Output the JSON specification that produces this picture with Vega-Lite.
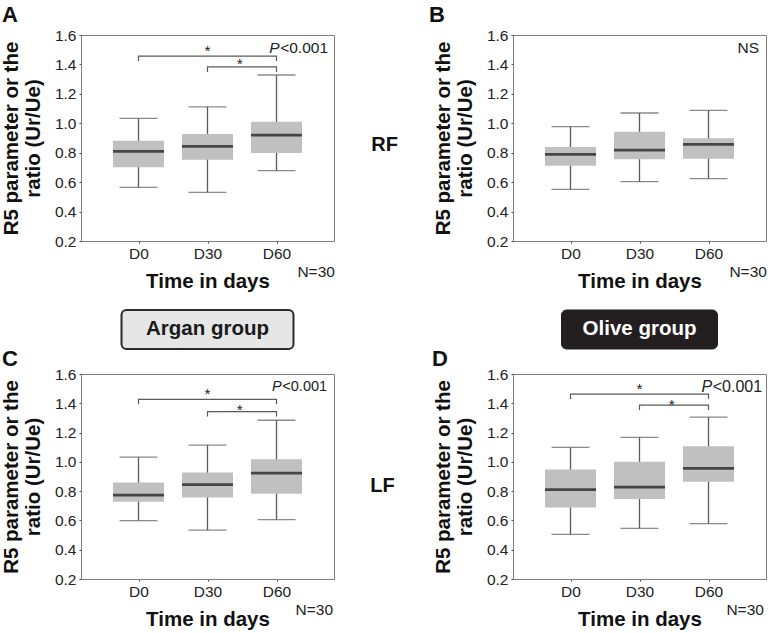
{
  "$schema": "https://vega.github.io/schema/vega-lite/v6.json",
  "autosize": {"type": "none"},
  "padding": {"left": 81, "top": 35, "right": 687, "bottom": 598},
  "background": "white",
  "columns": 2,
  "spacing": {"row": 25, "column": 179},
  "bounds": "flush",
  "datasets": {
    "boxes": [
      {"panel": "A", "day": 0, "min": 0.565, "q1": 0.701, "median": 0.809, "q3": 0.882, "max": 1.034},
      {"panel": "A", "day": 30, "min": 0.531, "q1": 0.753, "median": 0.843, "q3": 0.927, "max": 1.111},
      {"panel": "A", "day": 60, "min": 0.678, "q1": 0.798, "median": 0.92, "q3": 1.011, "max": 1.328},
      {"panel": "B", "day": 0, "min": 0.551, "q1": 0.712, "median": 0.789, "q3": 0.839, "max": 0.977},
      {"panel": "B", "day": 30, "min": 0.603, "q1": 0.755, "median": 0.818, "q3": 0.943, "max": 1.07},
      {"panel": "B", "day": 60, "min": 0.624, "q1": 0.759, "median": 0.857, "q3": 0.898, "max": 1.088},
      {"panel": "C", "day": 0, "min": 0.598, "q1": 0.727, "median": 0.773, "q3": 0.859, "max": 1.032},
      {"panel": "C", "day": 30, "min": 0.534, "q1": 0.757, "median": 0.845, "q3": 0.927, "max": 1.114},
      {"panel": "C", "day": 60, "min": 0.605, "q1": 0.782, "median": 0.923, "q3": 1.018, "max": 1.284},
      {"panel": "D", "day": 0, "min": 0.505, "q1": 0.689, "median": 0.81, "q3": 0.947, "max": 1.099},
      {"panel": "D", "day": 30, "min": 0.546, "q1": 0.746, "median": 0.828, "q3": 1.001, "max": 1.167},
      {"panel": "D", "day": 60, "min": 0.578, "q1": 0.865, "median": 0.956, "q3": 1.106, "max": 1.306}
    ],
    "brackets": [
      {"panel": "A", "bracket": 1, "seq": 1, "day": 0, "ratio": 1.423},
      {"panel": "A", "bracket": 1, "seq": 2, "day": 0, "ratio": 1.457},
      {"panel": "A", "bracket": 1, "seq": 3, "day": 60, "ratio": 1.457},
      {"panel": "A", "bracket": 1, "seq": 4, "day": 60, "ratio": 1.423},
      {"panel": "A", "bracket": 2, "seq": 1, "day": 30, "ratio": 1.349},
      {"panel": "A", "bracket": 2, "seq": 2, "day": 30, "ratio": 1.383},
      {"panel": "A", "bracket": 2, "seq": 3, "day": 60, "ratio": 1.383},
      {"panel": "A", "bracket": 2, "seq": 4, "day": 60, "ratio": 1.349},
      {"panel": "C", "bracket": 1, "seq": 1, "day": 0, "ratio": 1.393},
      {"panel": "C", "bracket": 1, "seq": 2, "day": 0, "ratio": 1.427},
      {"panel": "C", "bracket": 1, "seq": 3, "day": 60, "ratio": 1.427},
      {"panel": "C", "bracket": 1, "seq": 4, "day": 60, "ratio": 1.393},
      {"panel": "C", "bracket": 2, "seq": 1, "day": 30, "ratio": 1.309},
      {"panel": "C", "bracket": 2, "seq": 2, "day": 30, "ratio": 1.343},
      {"panel": "C", "bracket": 2, "seq": 3, "day": 60, "ratio": 1.343},
      {"panel": "C", "bracket": 2, "seq": 4, "day": 60, "ratio": 1.309},
      {"panel": "D", "bracket": 1, "seq": 1, "day": 0, "ratio": 1.429},
      {"panel": "D", "bracket": 1, "seq": 2, "day": 0, "ratio": 1.463},
      {"panel": "D", "bracket": 1, "seq": 3, "day": 60, "ratio": 1.463},
      {"panel": "D", "bracket": 1, "seq": 4, "day": 60, "ratio": 1.429},
      {"panel": "D", "bracket": 2, "seq": 1, "day": 30, "ratio": 1.354},
      {"panel": "D", "bracket": 2, "seq": 2, "day": 30, "ratio": 1.388},
      {"panel": "D", "bracket": 2, "seq": 3, "day": 60, "ratio": 1.388},
      {"panel": "D", "bracket": 2, "seq": 4, "day": 60, "ratio": 1.354}
    ],
    "stars": [
      {"panel": "A", "day": 30, "ratio": 1.457, "label": "*"},
      {"panel": "A", "day": 44, "ratio": 1.368, "label": "*"},
      {"panel": "C", "day": 30, "ratio": 1.429, "label": "*"},
      {"panel": "C", "day": 44, "ratio": 1.32, "label": "*"},
      {"panel": "D", "day": 30, "ratio": 1.463, "label": "*"},
      {"panel": "D", "day": 44, "ratio": 1.354, "label": "*"}
    ],
    "notes": [
      {"panel": "A", "kind": "p", "label": "<0.001", "day": 82.4, "ratio": 1.478},
      {"panel": "A", "kind": "pItalic", "label": "P", "day": 61.3, "ratio": 1.478},
      {"panel": "A", "kind": "n", "label": "N=30", "day": 85.4, "ratio": -0.045},
      {"panel": "A", "kind": "row", "label": "RF", "day": 107, "ratio": 0.812},
      {"panel": "B", "kind": "n", "label": "NS", "day": 82, "ratio": 1.478},
      {"panel": "B", "kind": "n", "label": "N=30", "day": 85.4, "ratio": -0.045},
      {"panel": "C", "kind": "p", "label": "<0.001", "day": 82, "ratio": 1.486},
      {"panel": "C", "kind": "pItalic", "label": "P", "day": 62.3, "ratio": 1.486},
      {"panel": "C", "kind": "n", "label": "N=30", "day": 84.6, "ratio": -0.045},
      {"panel": "C", "kind": "row", "label": "LF", "day": 106.1, "ratio": 0.794},
      {"panel": "D", "kind": "p", "label": "<0.001", "day": 83.3, "ratio": 1.479},
      {"panel": "D", "kind": "pItalic", "label": "P", "day": 61.6, "ratio": 1.479},
      {"panel": "D", "kind": "n", "label": "N=30", "day": 84.1, "ratio": -0.045}
    ],
    "groups": [
      {"group": "Argan group"},
      {"group": "Olive group"}
    ]
  },
  "concat": [
    {
      "width": 253, "height": 206,
      "title": {"text": "A", "anchor": "start", "frame": "group", "dx": -79, "offset": -16, "baseline": "alphabetic", "fontSize": 22, "fontWeight": "bold", "color": "#111"},
      "encoding": {"x": {"field": "day", "type": "quantitative", "scale": {"domain": [-25, 85], "nice": false, "zero": false, "padding": 0}, "axis": {"values": [0, 30, 60], "labelExpr": "'D' + datum.value", "title": "Time in days", "labelFlush": false, "labelOverlap": false}}},
      "layer": [
        {"data": {"name": "boxes"}, "transform": [{"filter": "datum.panel === 'A'"}], "mark": {"type": "rule", "color": "#5a5a5a", "strokeWidth": 1.3},
         "encoding": {"y": {"field": "min", "type": "quantitative", "scale": {"domain": [0.2, 1.6], "nice": false, "zero": false, "padding": 0}, "axis": {"values": [0.2, 0.4, 0.6, 0.8, 1.0, 1.2, 1.4, 1.6], "format": ".1f", "title": ["R5 parameter or the", "ratio (Ur/Ue)"], "labelFlush": false, "labelOverlap": false}}, "y2": {"field": "max"}}},
        {"data": {"name": "boxes"}, "transform": [{"filter": "datum.panel === 'A'"}], "mark": {"type": "tick", "orient": "horizontal", "size": 38, "thickness": 1.3, "color": "#5a5a5a"},
         "encoding": {"y": {"field": "max", "type": "quantitative", "scale": {"domain": [0.2, 1.6], "nice": false, "zero": false, "padding": 0}, "axis": {"values": [0.2, 0.4, 0.6, 0.8, 1.0, 1.2, 1.4, 1.6], "format": ".1f", "title": ["R5 parameter or the", "ratio (Ur/Ue)"], "labelFlush": false, "labelOverlap": false}}}},
        {"data": {"name": "boxes"}, "transform": [{"filter": "datum.panel === 'A'"}], "mark": {"type": "tick", "orient": "horizontal", "size": 38, "thickness": 1.3, "color": "#5a5a5a"},
         "encoding": {"y": {"field": "min", "type": "quantitative", "scale": {"domain": [0.2, 1.6], "nice": false, "zero": false, "padding": 0}, "axis": {"values": [0.2, 0.4, 0.6, 0.8, 1.0, 1.2, 1.4, 1.6], "format": ".1f", "title": ["R5 parameter or the", "ratio (Ur/Ue)"], "labelFlush": false, "labelOverlap": false}}}},
        {"data": {"name": "boxes"}, "transform": [{"filter": "datum.panel === 'A'"}], "mark": {"type": "bar", "orient": "vertical", "width": 51, "color": "#c0c0c0"},
         "encoding": {"y": {"field": "q1", "type": "quantitative", "scale": {"domain": [0.2, 1.6], "nice": false, "zero": false, "padding": 0}, "axis": {"values": [0.2, 0.4, 0.6, 0.8, 1.0, 1.2, 1.4, 1.6], "format": ".1f", "title": ["R5 parameter or the", "ratio (Ur/Ue)"], "labelFlush": false, "labelOverlap": false}}, "y2": {"field": "q3"}}},
        {"data": {"name": "boxes"}, "transform": [{"filter": "datum.panel === 'A'"}], "mark": {"type": "tick", "orient": "horizontal", "size": 51, "thickness": 2.8, "color": "#111"},
         "encoding": {"y": {"field": "median", "type": "quantitative", "scale": {"domain": [0.2, 1.6], "nice": false, "zero": false, "padding": 0}, "axis": {"values": [0.2, 0.4, 0.6, 0.8, 1.0, 1.2, 1.4, 1.6], "format": ".1f", "title": ["R5 parameter or the", "ratio (Ur/Ue)"], "labelFlush": false, "labelOverlap": false}}}},
        {"data": {"name": "brackets"}, "transform": [{"filter": "datum.panel === 'A'"}], "mark": {"type": "line", "color": "#5a5a5a", "strokeWidth": 1.2},
         "encoding": {"y": {"field": "ratio", "type": "quantitative", "scale": {"domain": [0.2, 1.6], "nice": false, "zero": false, "padding": 0}, "axis": {"values": [0.2, 0.4, 0.6, 0.8, 1.0, 1.2, 1.4, 1.6], "format": ".1f", "title": ["R5 parameter or the", "ratio (Ur/Ue)"], "labelFlush": false, "labelOverlap": false}}, "detail": {"field": "bracket"}, "order": {"field": "seq"}}},
        {"data": {"name": "stars"}, "transform": [{"filter": "datum.panel === 'A'"}], "mark": {"type": "text", "fontSize": 15.5, "baseline": "alphabetic", "color": "#222"},
         "encoding": {"y": {"field": "ratio", "type": "quantitative", "scale": {"domain": [0.2, 1.6], "nice": false, "zero": false, "padding": 0}, "axis": {"values": [0.2, 0.4, 0.6, 0.8, 1.0, 1.2, 1.4, 1.6], "format": ".1f", "title": ["R5 parameter or the", "ratio (Ur/Ue)"], "labelFlush": false, "labelOverlap": false}}, "text": {"field": "label"}}},
        {"data": {"name": "notes"}, "transform": [{"filter": "datum.panel === 'A' && datum.kind === 'p'"}], "mark": {"type": "text", "align": "right", "fontSize": 15.5, "baseline": "alphabetic", "color": "#222"},
         "encoding": {"y": {"field": "ratio", "type": "quantitative", "scale": {"domain": [0.2, 1.6], "nice": false, "zero": false, "padding": 0}, "axis": {"values": [0.2, 0.4, 0.6, 0.8, 1.0, 1.2, 1.4, 1.6], "format": ".1f", "title": ["R5 parameter or the", "ratio (Ur/Ue)"], "labelFlush": false, "labelOverlap": false}}, "text": {"field": "label"}}},
        {"data": {"name": "notes"}, "transform": [{"filter": "datum.panel === 'A' && datum.kind === 'pItalic'"}], "mark": {"type": "text", "align": "right", "fontSize": 15.5, "fontStyle": "italic", "baseline": "alphabetic", "color": "#222"},
         "encoding": {"y": {"field": "ratio", "type": "quantitative", "scale": {"domain": [0.2, 1.6], "nice": false, "zero": false, "padding": 0}, "axis": {"values": [0.2, 0.4, 0.6, 0.8, 1.0, 1.2, 1.4, 1.6], "format": ".1f", "title": ["R5 parameter or the", "ratio (Ur/Ue)"], "labelFlush": false, "labelOverlap": false}}, "text": {"field": "label"}}},
        {"data": {"name": "notes"}, "transform": [{"filter": "datum.panel === 'A' && datum.kind === 'n'"}], "mark": {"type": "text", "align": "right", "fontSize": 15.5, "baseline": "alphabetic", "color": "#222"},
         "encoding": {"y": {"field": "ratio", "type": "quantitative", "scale": {"domain": [0.2, 1.6], "nice": false, "zero": false, "padding": 0}, "axis": {"values": [0.2, 0.4, 0.6, 0.8, 1.0, 1.2, 1.4, 1.6], "format": ".1f", "title": ["R5 parameter or the", "ratio (Ur/Ue)"], "labelFlush": false, "labelOverlap": false}}, "text": {"field": "label"}}},
        {"data": {"name": "notes"}, "transform": [{"filter": "datum.panel === 'A' && datum.kind === 'row'"}], "mark": {"type": "text", "align": "center", "fontSize": 20, "fontWeight": "bold", "baseline": "alphabetic", "color": "#111"},
         "encoding": {"y": {"field": "ratio", "type": "quantitative", "scale": {"domain": [0.2, 1.6], "nice": false, "zero": false, "padding": 0}, "axis": {"values": [0.2, 0.4, 0.6, 0.8, 1.0, 1.2, 1.4, 1.6], "format": ".1f", "title": ["R5 parameter or the", "ratio (Ur/Ue)"], "labelFlush": false, "labelOverlap": false}}, "text": {"field": "label"}}}
      ]
    },
    {
      "width": 253, "height": 206,
      "title": {"text": "B", "anchor": "start", "frame": "group", "dx": -84, "offset": -16, "baseline": "alphabetic", "fontSize": 22, "fontWeight": "bold", "color": "#111"},
      "encoding": {"x": {"field": "day", "type": "quantitative", "scale": {"domain": [-25, 85], "nice": false, "zero": false, "padding": 0}, "axis": {"values": [0, 30, 60], "labelExpr": "'D' + datum.value", "title": "Time in days", "labelFlush": false, "labelOverlap": false}}},
      "layer": [
        {"data": {"name": "boxes"}, "transform": [{"filter": "datum.panel === 'B'"}], "mark": {"type": "rule", "color": "#5a5a5a", "strokeWidth": 1.3},
         "encoding": {"y": {"field": "min", "type": "quantitative", "scale": {"domain": [0.2, 1.6], "nice": false, "zero": false, "padding": 0}, "axis": {"values": [0.2, 0.4, 0.6, 0.8, 1.0, 1.2, 1.4, 1.6], "format": ".1f", "title": ["R5 parameter or the", "ratio (Ur/Ue)"], "labelFlush": false, "labelOverlap": false}}, "y2": {"field": "max"}}},
        {"data": {"name": "boxes"}, "transform": [{"filter": "datum.panel === 'B'"}], "mark": {"type": "tick", "orient": "horizontal", "size": 38, "thickness": 1.3, "color": "#5a5a5a"},
         "encoding": {"y": {"field": "max", "type": "quantitative", "scale": {"domain": [0.2, 1.6], "nice": false, "zero": false, "padding": 0}, "axis": {"values": [0.2, 0.4, 0.6, 0.8, 1.0, 1.2, 1.4, 1.6], "format": ".1f", "title": ["R5 parameter or the", "ratio (Ur/Ue)"], "labelFlush": false, "labelOverlap": false}}}},
        {"data": {"name": "boxes"}, "transform": [{"filter": "datum.panel === 'B'"}], "mark": {"type": "tick", "orient": "horizontal", "size": 38, "thickness": 1.3, "color": "#5a5a5a"},
         "encoding": {"y": {"field": "min", "type": "quantitative", "scale": {"domain": [0.2, 1.6], "nice": false, "zero": false, "padding": 0}, "axis": {"values": [0.2, 0.4, 0.6, 0.8, 1.0, 1.2, 1.4, 1.6], "format": ".1f", "title": ["R5 parameter or the", "ratio (Ur/Ue)"], "labelFlush": false, "labelOverlap": false}}}},
        {"data": {"name": "boxes"}, "transform": [{"filter": "datum.panel === 'B'"}], "mark": {"type": "bar", "orient": "vertical", "width": 51, "color": "#c0c0c0"},
         "encoding": {"y": {"field": "q1", "type": "quantitative", "scale": {"domain": [0.2, 1.6], "nice": false, "zero": false, "padding": 0}, "axis": {"values": [0.2, 0.4, 0.6, 0.8, 1.0, 1.2, 1.4, 1.6], "format": ".1f", "title": ["R5 parameter or the", "ratio (Ur/Ue)"], "labelFlush": false, "labelOverlap": false}}, "y2": {"field": "q3"}}},
        {"data": {"name": "boxes"}, "transform": [{"filter": "datum.panel === 'B'"}], "mark": {"type": "tick", "orient": "horizontal", "size": 51, "thickness": 2.8, "color": "#111"},
         "encoding": {"y": {"field": "median", "type": "quantitative", "scale": {"domain": [0.2, 1.6], "nice": false, "zero": false, "padding": 0}, "axis": {"values": [0.2, 0.4, 0.6, 0.8, 1.0, 1.2, 1.4, 1.6], "format": ".1f", "title": ["R5 parameter or the", "ratio (Ur/Ue)"], "labelFlush": false, "labelOverlap": false}}}},
        {"data": {"name": "notes"}, "transform": [{"filter": "datum.panel === 'B' && datum.kind === 'n'"}], "mark": {"type": "text", "align": "right", "fontSize": 15.5, "baseline": "alphabetic", "color": "#222"},
         "encoding": {"y": {"field": "ratio", "type": "quantitative", "scale": {"domain": [0.2, 1.6], "nice": false, "zero": false, "padding": 0}, "axis": {"values": [0.2, 0.4, 0.6, 0.8, 1.0, 1.2, 1.4, 1.6], "format": ".1f", "title": ["R5 parameter or the", "ratio (Ur/Ue)"], "labelFlush": false, "labelOverlap": false}}, "text": {"field": "label"}}}
      ]
    },
    {
      "width": 253, "height": 83,
      "view": {"stroke": null},
      "data": {"name": "groups"},
      "transform": [{"filter": "datum.group === 'Argan group'"}],
      "encoding": {
        "x": {"field": "group", "type": "nominal", "scale": {"paddingInner": 0, "paddingOuter": 0.2355}, "axis": null},
        "y": {"field": "group", "type": "nominal", "scale": {"paddingInner": 0, "paddingOuter": 0.564, "align": 1}, "axis": null}
      },
      "layer": [
        {"mark": {"type": "rect", "fill": "#e6e6e6", "stroke": "#2b2b2b", "strokeWidth": 2, "cornerRadius": 5}},
        {"mark": {"type": "text", "fontSize": 20.5, "fontWeight": "bold", "color": "#1a1a1a"}, "encoding": {"text": {"field": "group"}}}
      ]
    },
    {
      "width": 253, "height": 83,
      "view": {"stroke": null},
      "data": {"name": "groups"},
      "transform": [{"filter": "datum.group === 'Olive group'"}],
      "encoding": {
        "x": {"field": "group", "type": "nominal", "scale": {"paddingInner": 0, "paddingOuter": 0.3109}, "axis": null},
        "y": {"field": "group", "type": "nominal", "scale": {"paddingInner": 0, "paddingOuter": 0.564, "align": 1}, "axis": null}
      },
      "layer": [
        {"mark": {"type": "rect", "fill": "#231f20", "stroke": "#231f20", "strokeWidth": 1, "cornerRadius": 5}},
        {"mark": {"type": "text", "fontSize": 20.5, "fontWeight": "bold", "color": "#ffffff"}, "encoding": {"text": {"field": "group"}}}
      ]
    },
    {
      "width": 253, "height": 205,
      "title": {"text": "C", "anchor": "start", "frame": "group", "dx": -79, "offset": -21, "baseline": "alphabetic", "fontSize": 22, "fontWeight": "bold", "color": "#111"},
      "encoding": {"x": {"field": "day", "type": "quantitative", "scale": {"domain": [-25, 85], "nice": false, "zero": false, "padding": 0}, "axis": {"values": [0, 30, 60], "labelExpr": "'D' + datum.value", "title": "Time in days", "labelFlush": false, "labelOverlap": false}}},
      "layer": [
        {"data": {"name": "boxes"}, "transform": [{"filter": "datum.panel === 'C'"}], "mark": {"type": "rule", "color": "#5a5a5a", "strokeWidth": 1.3},
         "encoding": {"y": {"field": "min", "type": "quantitative", "scale": {"domain": [0.2, 1.6], "nice": false, "zero": false, "padding": 0}, "axis": {"values": [0.2, 0.4, 0.6, 0.8, 1.0, 1.2, 1.4, 1.6], "format": ".1f", "title": ["R5 parameter or the", "ratio (Ur/Ue)"], "labelFlush": false, "labelOverlap": false}}, "y2": {"field": "max"}}},
        {"data": {"name": "boxes"}, "transform": [{"filter": "datum.panel === 'C'"}], "mark": {"type": "tick", "orient": "horizontal", "size": 38, "thickness": 1.3, "color": "#5a5a5a"},
         "encoding": {"y": {"field": "max", "type": "quantitative", "scale": {"domain": [0.2, 1.6], "nice": false, "zero": false, "padding": 0}, "axis": {"values": [0.2, 0.4, 0.6, 0.8, 1.0, 1.2, 1.4, 1.6], "format": ".1f", "title": ["R5 parameter or the", "ratio (Ur/Ue)"], "labelFlush": false, "labelOverlap": false}}}},
        {"data": {"name": "boxes"}, "transform": [{"filter": "datum.panel === 'C'"}], "mark": {"type": "tick", "orient": "horizontal", "size": 38, "thickness": 1.3, "color": "#5a5a5a"},
         "encoding": {"y": {"field": "min", "type": "quantitative", "scale": {"domain": [0.2, 1.6], "nice": false, "zero": false, "padding": 0}, "axis": {"values": [0.2, 0.4, 0.6, 0.8, 1.0, 1.2, 1.4, 1.6], "format": ".1f", "title": ["R5 parameter or the", "ratio (Ur/Ue)"], "labelFlush": false, "labelOverlap": false}}}},
        {"data": {"name": "boxes"}, "transform": [{"filter": "datum.panel === 'C'"}], "mark": {"type": "bar", "orient": "vertical", "width": 51, "color": "#c0c0c0"},
         "encoding": {"y": {"field": "q1", "type": "quantitative", "scale": {"domain": [0.2, 1.6], "nice": false, "zero": false, "padding": 0}, "axis": {"values": [0.2, 0.4, 0.6, 0.8, 1.0, 1.2, 1.4, 1.6], "format": ".1f", "title": ["R5 parameter or the", "ratio (Ur/Ue)"], "labelFlush": false, "labelOverlap": false}}, "y2": {"field": "q3"}}},
        {"data": {"name": "boxes"}, "transform": [{"filter": "datum.panel === 'C'"}], "mark": {"type": "tick", "orient": "horizontal", "size": 51, "thickness": 2.8, "color": "#111"},
         "encoding": {"y": {"field": "median", "type": "quantitative", "scale": {"domain": [0.2, 1.6], "nice": false, "zero": false, "padding": 0}, "axis": {"values": [0.2, 0.4, 0.6, 0.8, 1.0, 1.2, 1.4, 1.6], "format": ".1f", "title": ["R5 parameter or the", "ratio (Ur/Ue)"], "labelFlush": false, "labelOverlap": false}}}},
        {"data": {"name": "brackets"}, "transform": [{"filter": "datum.panel === 'C'"}], "mark": {"type": "line", "color": "#5a5a5a", "strokeWidth": 1.2},
         "encoding": {"y": {"field": "ratio", "type": "quantitative", "scale": {"domain": [0.2, 1.6], "nice": false, "zero": false, "padding": 0}, "axis": {"values": [0.2, 0.4, 0.6, 0.8, 1.0, 1.2, 1.4, 1.6], "format": ".1f", "title": ["R5 parameter or the", "ratio (Ur/Ue)"], "labelFlush": false, "labelOverlap": false}}, "detail": {"field": "bracket"}, "order": {"field": "seq"}}},
        {"data": {"name": "stars"}, "transform": [{"filter": "datum.panel === 'C'"}], "mark": {"type": "text", "fontSize": 15.5, "baseline": "alphabetic", "color": "#222"},
         "encoding": {"y": {"field": "ratio", "type": "quantitative", "scale": {"domain": [0.2, 1.6], "nice": false, "zero": false, "padding": 0}, "axis": {"values": [0.2, 0.4, 0.6, 0.8, 1.0, 1.2, 1.4, 1.6], "format": ".1f", "title": ["R5 parameter or the", "ratio (Ur/Ue)"], "labelFlush": false, "labelOverlap": false}}, "text": {"field": "label"}}},
        {"data": {"name": "notes"}, "transform": [{"filter": "datum.panel === 'C' && datum.kind === 'p'"}], "mark": {"type": "text", "align": "right", "fontSize": 14.5, "baseline": "alphabetic", "color": "#222"},
         "encoding": {"y": {"field": "ratio", "type": "quantitative", "scale": {"domain": [0.2, 1.6], "nice": false, "zero": false, "padding": 0}, "axis": {"values": [0.2, 0.4, 0.6, 0.8, 1.0, 1.2, 1.4, 1.6], "format": ".1f", "title": ["R5 parameter or the", "ratio (Ur/Ue)"], "labelFlush": false, "labelOverlap": false}}, "text": {"field": "label"}}},
        {"data": {"name": "notes"}, "transform": [{"filter": "datum.panel === 'C' && datum.kind === 'pItalic'"}], "mark": {"type": "text", "align": "right", "fontSize": 14.5, "fontStyle": "italic", "baseline": "alphabetic", "color": "#222"},
         "encoding": {"y": {"field": "ratio", "type": "quantitative", "scale": {"domain": [0.2, 1.6], "nice": false, "zero": false, "padding": 0}, "axis": {"values": [0.2, 0.4, 0.6, 0.8, 1.0, 1.2, 1.4, 1.6], "format": ".1f", "title": ["R5 parameter or the", "ratio (Ur/Ue)"], "labelFlush": false, "labelOverlap": false}}, "text": {"field": "label"}}},
        {"data": {"name": "notes"}, "transform": [{"filter": "datum.panel === 'C' && datum.kind === 'n'"}], "mark": {"type": "text", "align": "right", "fontSize": 15.5, "baseline": "alphabetic", "color": "#222"},
         "encoding": {"y": {"field": "ratio", "type": "quantitative", "scale": {"domain": [0.2, 1.6], "nice": false, "zero": false, "padding": 0}, "axis": {"values": [0.2, 0.4, 0.6, 0.8, 1.0, 1.2, 1.4, 1.6], "format": ".1f", "title": ["R5 parameter or the", "ratio (Ur/Ue)"], "labelFlush": false, "labelOverlap": false}}, "text": {"field": "label"}}},
        {"data": {"name": "notes"}, "transform": [{"filter": "datum.panel === 'C' && datum.kind === 'row'"}], "mark": {"type": "text", "align": "center", "fontSize": 20, "fontWeight": "bold", "baseline": "alphabetic", "color": "#111"},
         "encoding": {"y": {"field": "ratio", "type": "quantitative", "scale": {"domain": [0.2, 1.6], "nice": false, "zero": false, "padding": 0}, "axis": {"values": [0.2, 0.4, 0.6, 0.8, 1.0, 1.2, 1.4, 1.6], "format": ".1f", "title": ["R5 parameter or the", "ratio (Ur/Ue)"], "labelFlush": false, "labelOverlap": false}}, "text": {"field": "label"}}}
      ]
    },
    {
      "width": 253, "height": 205,
      "title": {"text": "D", "anchor": "start", "frame": "group", "dx": -81, "offset": -21, "baseline": "alphabetic", "fontSize": 22, "fontWeight": "bold", "color": "#111"},
      "encoding": {"x": {"field": "day", "type": "quantitative", "scale": {"domain": [-25, 85], "nice": false, "zero": false, "padding": 0}, "axis": {"values": [0, 30, 60], "labelExpr": "'D' + datum.value", "title": "Time in days", "labelFlush": false, "labelOverlap": false}}},
      "layer": [
        {"data": {"name": "boxes"}, "transform": [{"filter": "datum.panel === 'D'"}], "mark": {"type": "rule", "color": "#5a5a5a", "strokeWidth": 1.3},
         "encoding": {"y": {"field": "min", "type": "quantitative", "scale": {"domain": [0.2, 1.6], "nice": false, "zero": false, "padding": 0}, "axis": {"values": [0.2, 0.4, 0.6, 0.8, 1.0, 1.2, 1.4, 1.6], "format": ".1f", "title": ["R5 parameter or the", "ratio (Ur/Ue)"], "labelFlush": false, "labelOverlap": false}}, "y2": {"field": "max"}}},
        {"data": {"name": "boxes"}, "transform": [{"filter": "datum.panel === 'D'"}], "mark": {"type": "tick", "orient": "horizontal", "size": 38, "thickness": 1.3, "color": "#5a5a5a"},
         "encoding": {"y": {"field": "max", "type": "quantitative", "scale": {"domain": [0.2, 1.6], "nice": false, "zero": false, "padding": 0}, "axis": {"values": [0.2, 0.4, 0.6, 0.8, 1.0, 1.2, 1.4, 1.6], "format": ".1f", "title": ["R5 parameter or the", "ratio (Ur/Ue)"], "labelFlush": false, "labelOverlap": false}}}},
        {"data": {"name": "boxes"}, "transform": [{"filter": "datum.panel === 'D'"}], "mark": {"type": "tick", "orient": "horizontal", "size": 38, "thickness": 1.3, "color": "#5a5a5a"},
         "encoding": {"y": {"field": "min", "type": "quantitative", "scale": {"domain": [0.2, 1.6], "nice": false, "zero": false, "padding": 0}, "axis": {"values": [0.2, 0.4, 0.6, 0.8, 1.0, 1.2, 1.4, 1.6], "format": ".1f", "title": ["R5 parameter or the", "ratio (Ur/Ue)"], "labelFlush": false, "labelOverlap": false}}}},
        {"data": {"name": "boxes"}, "transform": [{"filter": "datum.panel === 'D'"}], "mark": {"type": "bar", "orient": "vertical", "width": 51, "color": "#c0c0c0"},
         "encoding": {"y": {"field": "q1", "type": "quantitative", "scale": {"domain": [0.2, 1.6], "nice": false, "zero": false, "padding": 0}, "axis": {"values": [0.2, 0.4, 0.6, 0.8, 1.0, 1.2, 1.4, 1.6], "format": ".1f", "title": ["R5 parameter or the", "ratio (Ur/Ue)"], "labelFlush": false, "labelOverlap": false}}, "y2": {"field": "q3"}}},
        {"data": {"name": "boxes"}, "transform": [{"filter": "datum.panel === 'D'"}], "mark": {"type": "tick", "orient": "horizontal", "size": 51, "thickness": 2.8, "color": "#111"},
         "encoding": {"y": {"field": "median", "type": "quantitative", "scale": {"domain": [0.2, 1.6], "nice": false, "zero": false, "padding": 0}, "axis": {"values": [0.2, 0.4, 0.6, 0.8, 1.0, 1.2, 1.4, 1.6], "format": ".1f", "title": ["R5 parameter or the", "ratio (Ur/Ue)"], "labelFlush": false, "labelOverlap": false}}}},
        {"data": {"name": "brackets"}, "transform": [{"filter": "datum.panel === 'D'"}], "mark": {"type": "line", "color": "#5a5a5a", "strokeWidth": 1.2},
         "encoding": {"y": {"field": "ratio", "type": "quantitative", "scale": {"domain": [0.2, 1.6], "nice": false, "zero": false, "padding": 0}, "axis": {"values": [0.2, 0.4, 0.6, 0.8, 1.0, 1.2, 1.4, 1.6], "format": ".1f", "title": ["R5 parameter or the", "ratio (Ur/Ue)"], "labelFlush": false, "labelOverlap": false}}, "detail": {"field": "bracket"}, "order": {"field": "seq"}}},
        {"data": {"name": "stars"}, "transform": [{"filter": "datum.panel === 'D'"}], "mark": {"type": "text", "fontSize": 15.5, "baseline": "alphabetic", "color": "#222"},
         "encoding": {"y": {"field": "ratio", "type": "quantitative", "scale": {"domain": [0.2, 1.6], "nice": false, "zero": false, "padding": 0}, "axis": {"values": [0.2, 0.4, 0.6, 0.8, 1.0, 1.2, 1.4, 1.6], "format": ".1f", "title": ["R5 parameter or the", "ratio (Ur/Ue)"], "labelFlush": false, "labelOverlap": false}}, "text": {"field": "label"}}},
        {"data": {"name": "notes"}, "transform": [{"filter": "datum.panel === 'D' && datum.kind === 'p'"}], "mark": {"type": "text", "align": "right", "fontSize": 16, "baseline": "alphabetic", "color": "#222"},
         "encoding": {"y": {"field": "ratio", "type": "quantitative", "scale": {"domain": [0.2, 1.6], "nice": false, "zero": false, "padding": 0}, "axis": {"values": [0.2, 0.4, 0.6, 0.8, 1.0, 1.2, 1.4, 1.6], "format": ".1f", "title": ["R5 parameter or the", "ratio (Ur/Ue)"], "labelFlush": false, "labelOverlap": false}}, "text": {"field": "label"}}},
        {"data": {"name": "notes"}, "transform": [{"filter": "datum.panel === 'D' && datum.kind === 'pItalic'"}], "mark": {"type": "text", "align": "right", "fontSize": 16, "fontStyle": "italic", "baseline": "alphabetic", "color": "#222"},
         "encoding": {"y": {"field": "ratio", "type": "quantitative", "scale": {"domain": [0.2, 1.6], "nice": false, "zero": false, "padding": 0}, "axis": {"values": [0.2, 0.4, 0.6, 0.8, 1.0, 1.2, 1.4, 1.6], "format": ".1f", "title": ["R5 parameter or the", "ratio (Ur/Ue)"], "labelFlush": false, "labelOverlap": false}}, "text": {"field": "label"}}},
        {"data": {"name": "notes"}, "transform": [{"filter": "datum.panel === 'D' && datum.kind === 'n'"}], "mark": {"type": "text", "align": "right", "fontSize": 15.5, "baseline": "alphabetic", "color": "#222"},
         "encoding": {"y": {"field": "ratio", "type": "quantitative", "scale": {"domain": [0.2, 1.6], "nice": false, "zero": false, "padding": 0}, "axis": {"values": [0.2, 0.4, 0.6, 0.8, 1.0, 1.2, 1.4, 1.6], "format": ".1f", "title": ["R5 parameter or the", "ratio (Ur/Ue)"], "labelFlush": false, "labelOverlap": false}}, "text": {"field": "label"}}}
      ]
    }
  ],
  "config": {
    "font": "Liberation Sans",
    "view": {"stroke": "#808080", "strokeWidth": 1},
    "axis": {
      "labelFont": "Liberation Sans", "labelFontSize": 15.5, "labelColor": "#222",
      "titleFont": "Liberation Sans", "titleFontSize": 20.5, "titleFontWeight": "bold", "titleColor": "#111",
      "domainColor": "#808080", "tickColor": "#444", "tickSize": 2, "grid": false, "labelPadding": 3
    },
    "axisX": {"titlePadding": 10},
    "axisY": {"titlePadding": 11, "titleLineHeight": 22},
    "title": {"font": "Liberation Sans"}
  }
}
